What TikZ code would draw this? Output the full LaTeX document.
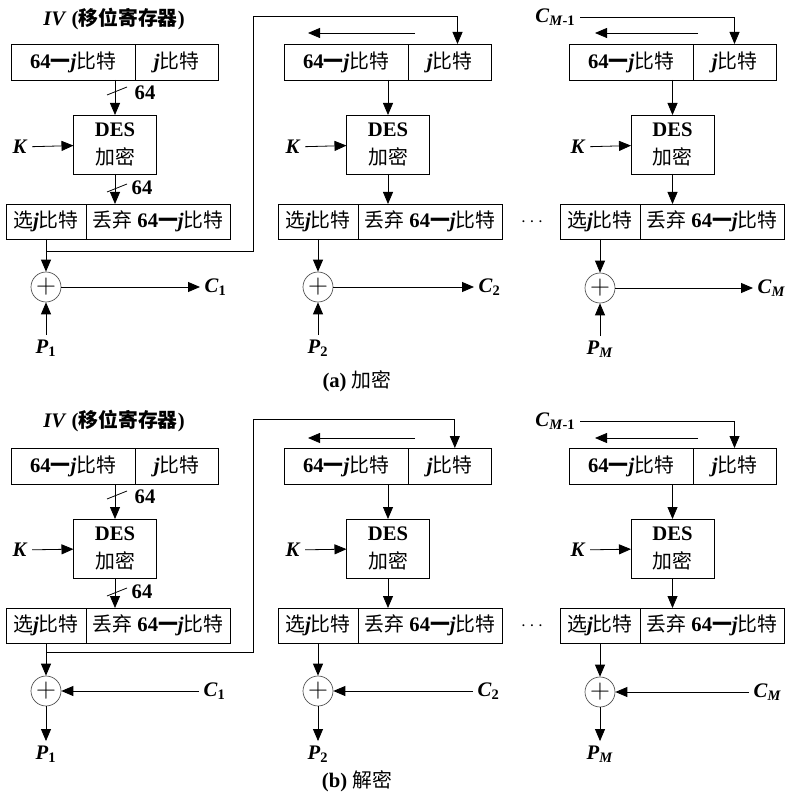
\documentclass[tikz,border=0pt]{standalone}
\usepackage{fontspec}
\setmainfont{Liberation Serif}
\newfontfamily\cjk{Noto Sans CJK SC}[Scale=0.96]
\usetikzlibrary{arrows.meta,positioning}
\newcommand{\zh}[1]{{\cjk\mdseries #1}}
\newcommand{\jbit}{\textit{j}\zh{比特}}
\newcommand{\mdash}{{\cjk 一}}
\tikzset{
  base/.style={font=\fontsize{15.5pt}{21pt}\selectfont\bfseries},
  cell/.style={base, draw, line width=0.6pt, inner sep=0pt, outer sep=0pt, minimum height=27pt},
  regl/.style={cell, minimum width=93pt, anchor=north west},
  regr/.style={cell, minimum width=62.25pt},
  desbox/.style={cell, align=center, minimum width=62.25pt, minimum height=44.25pt, anchor=north},
  selbox/.style={cell, minimum height=26.25pt, minimum width=60pt, anchor=north west},
  disbox/.style={cell, minimum height=26.25pt, minimum width=108pt},
  xor/.style={circle, draw=black!70, line width=0.5pt, inner sep=0pt, minimum size=22.5pt,
    font=\fontsize{22pt}{22pt}\selectfont},
  lbl/.style={base},
  arr/.style={-{Triangle[length=9pt,width=7.5pt]}, line width=0.6pt},
  ln/.style={line width=0.6pt}
}
\begin{document}
\begin{tikzpicture}[x=0.75pt,y=-0.75pt]
  \useasboundingbox (0,0) rectangle (794,798);
  % (a) encryption
  \node[lbl] (a-iv) at (114,19) {\textit{IV} ({\cjk 移位寄存器})};
  % first stage
  \node[regl] (a-r1l) at (11,44) {64\mdash\jbit};
  \node[regr, right=0pt of a-r1l] (a-r1r) {\jbit};
  \node[desbox] (a-d1) at (115,115) {DES\\\zh{加密}};
  \node[selbox] (a-s1) at (6,204) {\zh{选}\jbit};
  \node[disbox, right=0pt of a-s1] (a-t1) {\zh{丢弃} 64\mdash\jbit};
  \node[xor] (a-x1) at (46,287) {$+$};
  \node[lbl] (a-k1) at (20,147) {\textit{K}};
  \node[lbl, anchor=west] (a-c1) at (200,287) {\textit{C}\textsubscript{1}};
  \node[lbl] (a-p1) at (46,348) {\textit{P}\textsubscript{1}};
  \draw[arr] (a-d1.north |- a-r1l.south) -- (a-d1.north);
  \draw[ln] (107,95) -- (127,87);
  \node[lbl] (a-w1) at (145,93) {64};
  \draw[arr] (a-k1) -- (a-d1);
  \draw[arr] (a-d1.south) -- (a-d1.south |- a-t1.north);
  \draw[ln] (107,192) -- (127,184);
  \node[lbl] (a-w2) at (142,188) {64};
  \draw[arr] (a-s1) -- (a-x1);
  \draw[arr] (a-p1) -- (a-x1);
  \draw[arr] (a-x1) -- (a-c1);
  % second stage
  \node[regl] (a-r2l) at (284,44) {64\mdash\jbit};
  \node[regr, right=0pt of a-r2l] (a-r2r) {\jbit};
  \node[desbox] (a-d2) at (388,115) {DES\\\zh{加密}};
  \node[selbox] (a-s2) at (278,204) {\zh{选}\jbit};
  \node[disbox, right=0pt of a-s2] (a-t2) {\zh{丢弃} 64\mdash\jbit};
  \node[xor] (a-x2) at (318,287) {$+$};
  \node[lbl] (a-k2) at (293,147) {\textit{K}};
  \node[lbl, anchor=west] (a-c2) at (474,287) {\textit{C}\textsubscript{2}};
  \node[lbl] (a-p2) at (318,348) {\textit{P}\textsubscript{2}};
  \draw[arr] (a-s1.south |- 0,251) -| (253,16) -| ([xshift=6pt]a-r2r.north);
  \draw[arr] (415,33) -- (308,33);
  \draw[arr] (a-d2.north |- a-r2l.south) -- (a-d2.north);
  \draw[arr] (a-k2) -- (a-d2);
  \draw[arr] (a-d2.south) -- (a-d2.south |- a-t2.north);
  \draw[arr] (a-s2) -- (a-x2);
  \draw[arr] (a-p2) -- (a-x2);
  \draw[arr] (a-x2) -- (a-c2);
  \node[lbl] (a-dots) at (532,222) {$\cdots$};
  % last stage
  \node[lbl, anchor=east] (a-cm1) at (580,17) {\textit{C}\textsubscript{\textit{M}-1}};
  \node[regl] (a-r3l) at (569,44) {64\mdash\jbit};
  \node[regr, right=0pt of a-r3l] (a-r3r) {\jbit};
  \node[desbox] (a-d3) at (672.5,115) {DES\\\zh{加密}};
  \node[selbox] (a-s3) at (560,204) {\zh{选}\jbit};
  \node[disbox, right=0pt of a-s3] (a-t3) {\zh{丢弃} 64\mdash\jbit};
  \node[xor] (a-x3) at (600,288) {$+$};
  \node[lbl] (a-k3) at (578,147) {\textit{K}};
  \node[lbl, anchor=west] (a-c3) at (753,288) {\textit{C}\textsubscript{\textit{M}}};
  \node[lbl] (a-p3) at (600,349) {\textit{P}\textsubscript{\textit{M}}};
  \draw[arr] (a-cm1) -| (a-r3r.north);
  \draw[arr] (698,33) -- (595,33);
  \draw[arr] (a-d3.north |- a-r3l.south) -- (a-d3.north);
  \draw[arr] (a-k3) -- (a-d3);
  \draw[arr] (a-d3.south) -- (a-d3.south |- a-t3.north);
  \draw[arr] (a-s3) -- (a-x3);
  \draw[arr] (a-p3) -- (a-x3);
  \draw[arr] (a-x3) -- (a-c3);
  \node[lbl] (a-cap) at (357,381) {(a) \zh{加密}};

  % (b) decryption
  \begin{scope}[shift={(0,404)}]
    \node[lbl] (b-iv) at (114,17) {\textit{IV} ({\cjk 移位寄存器})};
    % first stage
    \node[regl] (b-r1l) at (11,44) {64\mdash\jbit};
    \node[regr, right=0pt of b-r1l] (b-r1r) {\jbit};
    \node[desbox] (b-d1) at (115,115) {DES\\\zh{加密}};
    \node[selbox] (b-s1) at (6,204) {\zh{选}\jbit};
    \node[disbox, right=0pt of b-s1] (b-t1) {\zh{丢弃} 64\mdash\jbit};
    \node[xor] (b-x1) at (46,287) {$+$};
    \node[lbl] (b-k1) at (20,146) {\textit{K}};
    \node[lbl, anchor=west] (b-c1) at (199,287) {\textit{C}\textsubscript{1}};
    \node[lbl] (b-p1) at (46,350) {\textit{P}\textsubscript{1}};
    \draw[arr] (b-d1.north |- b-r1l.south) -- (b-d1.north);
    \draw[ln] (107,95) -- (127,87);
    \node[lbl] (b-w1) at (145,93) {64};
    \draw[arr] (b-k1) -- (b-d1);
    \draw[arr] (b-d1.south) -- (b-d1.south |- b-t1.north);
    \draw[ln] (107,192) -- (127,184);
    \node[lbl] (b-w2) at (142,188) {64};
    \draw[arr] (b-s1) -- (b-x1);
    \draw[arr] (b-x1) -- (b-p1);
    \draw[arr] (b-c1) -- (b-x1);
    % second stage
    \node[regl] (b-r2l) at (284,44) {64\mdash\jbit};
    \node[regr, right=0pt of b-r2l] (b-r2r) {\jbit};
    \node[desbox] (b-d2) at (388,115) {DES\\\zh{加密}};
    \node[selbox] (b-s2) at (278,204) {\zh{选}\jbit};
    \node[disbox, right=0pt of b-s2] (b-t2) {\zh{丢弃} 64\mdash\jbit};
    \node[xor] (b-x2) at (318,287) {$+$};
    \node[lbl] (b-k2) at (293,146) {\textit{K}};
    \node[lbl, anchor=west] (b-c2) at (473,287) {\textit{C}\textsubscript{2}};
    \node[lbl] (b-p2) at (318,350) {\textit{P}\textsubscript{2}};
    \draw[arr] (b-s1.south |- 0,248) -| (253,15) -| ([xshift=4pt]b-r2r.north);
    \draw[arr] (415,34) -- (308,34);
    \draw[arr] (b-d2.north |- b-r2l.south) -- (b-d2.north);
    \draw[arr] (b-k2) -- (b-d2);
    \draw[arr] (b-d2.south) -- (b-d2.south |- b-t2.north);
    \draw[arr] (b-s2) -- (b-x2);
    \draw[arr] (b-x2) -- (b-p2);
    \draw[arr] (b-c2) -- (b-x2);
    \node[lbl] (b-dots) at (532,222) {$\cdots$};
    % last stage
    \node[lbl, anchor=east] (b-cm1) at (580,17) {\textit{C}\textsubscript{\textit{M}-1}};
    \node[regl] (b-r3l) at (569,44) {64\mdash\jbit};
    \node[regr, right=0pt of b-r3l] (b-r3r) {\jbit};
    \node[desbox] (b-d3) at (672.5,115) {DES\\\zh{加密}};
    \node[selbox] (b-s3) at (560,204) {\zh{选}\jbit};
    \node[disbox, right=0pt of b-s3] (b-t3) {\zh{丢弃} 64\mdash\jbit};
    \node[xor] (b-x3) at (600,288) {$+$};
    \node[lbl] (b-k3) at (578,146) {\textit{K}};
    \node[lbl, anchor=west] (b-c3) at (749,288) {\textit{C}\textsubscript{\textit{M}}};
    \node[lbl] (b-p3) at (600,350) {\textit{P}\textsubscript{\textit{M}}};
    \draw[arr] (b-cm1) -| (b-r3r.north);
    \draw[arr] (698,34) -- (595,34);
    \draw[arr] (b-d3.north |- b-r3l.south) -- (b-d3.north);
    \draw[arr] (b-k3) -- (b-d3);
    \draw[arr] (b-d3.south) -- (b-d3.south |- b-t3.north);
    \draw[arr] (b-s3) -- (b-x3);
    \draw[arr] (b-x3) -- (b-p3);
    \draw[arr] (b-c3) -- (b-x3);
    \node[lbl] (b-cap) at (357,377) {(b) \zh{解密}};
  \end{scope}
\end{tikzpicture}
\end{document}
